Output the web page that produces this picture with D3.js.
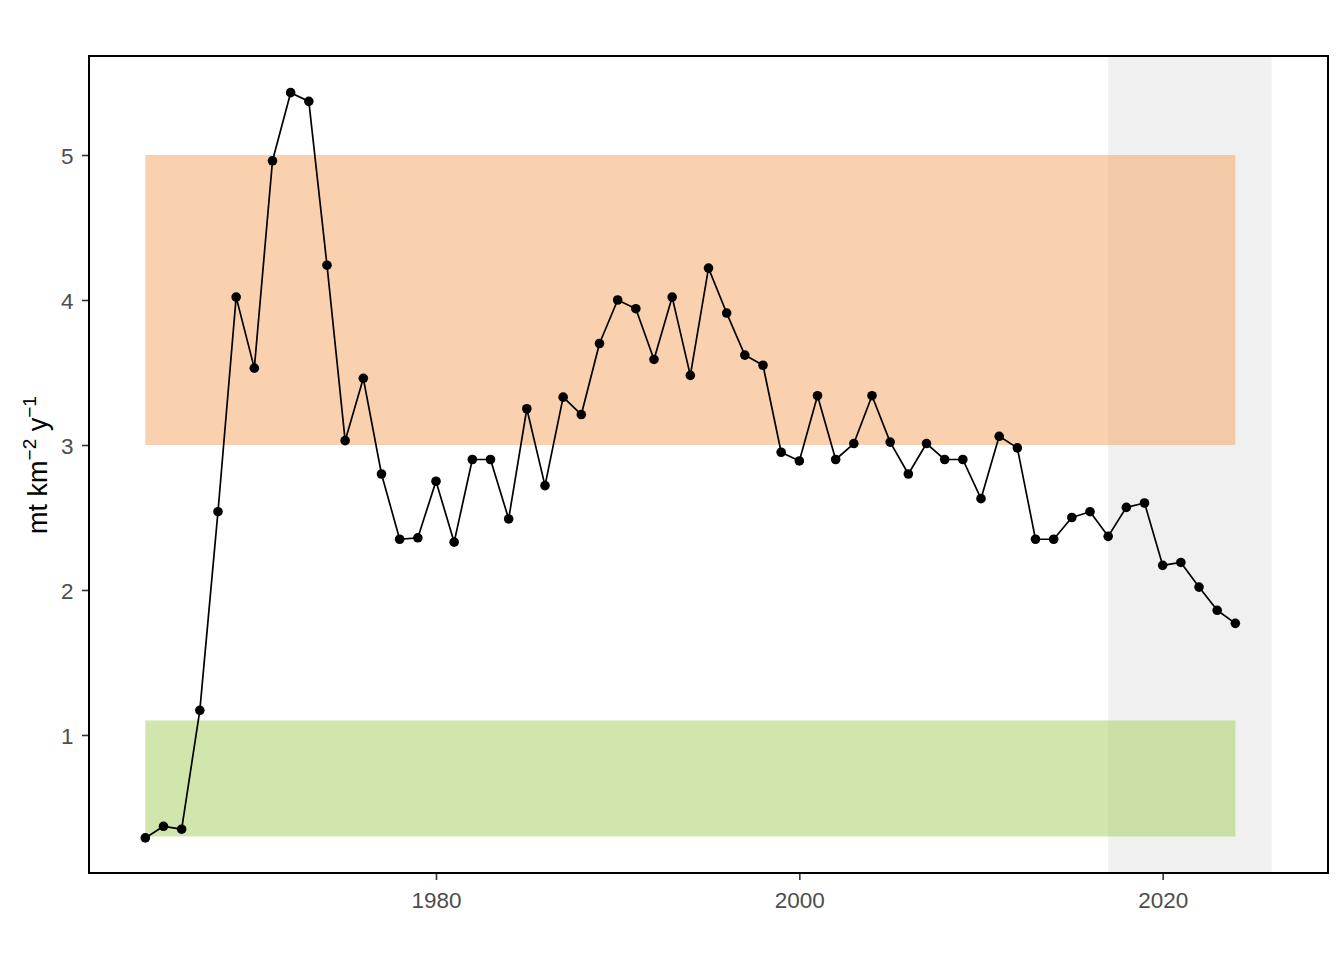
<!DOCTYPE html>
<html>
<head>
<meta charset="utf-8">
<script src="https://cdn.jsdelivr.net/npm/d3@7"></script>
<style>
  html, body { margin: 0; padding: 0; background: #ffffff; }
  svg { display: block; }
</style>
</head>
<body>
<div id="chart"></div>
<script>
// ---- data ----
const years = d3.range(1964, 2025);
const values = [
  0.29, 0.37, 0.35, 1.17, 2.54, 4.02, 3.53, 4.96, 5.43, 5.37,
  4.24, 3.03, 3.46, 2.80, 2.35, 2.36, 2.75, 2.33, 2.90, 2.90,
  2.49, 3.25, 2.72, 3.33, 3.21, 3.70, 4.00, 3.94, 3.59, 4.02,
  3.48, 4.22, 3.91, 3.62, 3.55, 2.95, 2.89, 3.34, 2.90, 3.01,
  3.34, 3.02, 2.80, 3.01, 2.90, 2.90, 2.63, 3.06, 2.98, 2.35,
  2.35, 2.50, 2.54, 2.37, 2.57, 2.60, 2.17, 2.19, 2.02, 1.86,
  1.77
];
const xTicks = [1980, 2000, 2020];
const yTicks = [1, 2, 3, 4, 5];
const bandYears = [1964, 2024];
const orangeBand = [3, 5];
const greenBand = [0.3, 1.1];
const projYears = [2017, 2026];
const yLabelParts = ["mt km", "\u22122", " y", "\u22121"];

// ---- layout ----
const W = 1344, H = 960;
const pLeft = 89, pRight = 1328, pTop = 57, pBottom = 873;

const svg = d3.select("#chart").append("svg")
  .attr("width", W).attr("height", H)
  .style("font-family", "'Liberation Sans', Arial, sans-serif");

const xMin = 1964, xMax = 2026, xPad = (xMax - xMin) * 0.05;
const x = d3.scaleLinear().domain([xMin - xPad, xMax + xPad]).range([pLeft, pRight]);
const y = d3.scaleLinear().domain([0.048, 5.676]).range([pBottom, pTop]);

// projection (grey) band
svg.append("rect")
  .attr("x", x(projYears[0])).attr("y", pTop)
  .attr("width", x(projYears[1]) - x(projYears[0]))
  .attr("height", pBottom - pTop)
  .attr("fill", "#f0f0f0");

// orange band
svg.append("rect")
  .attr("x", x(bandYears[0])).attr("y", y(orangeBand[1]))
  .attr("width", x(bandYears[1]) - x(bandYears[0]))
  .attr("height", y(orangeBand[0]) - y(orangeBand[1]))
  .attr("fill", "#F4A460").attr("fill-opacity", 0.5);

// green band
svg.append("rect")
  .attr("x", x(bandYears[0])).attr("y", y(greenBand[1]))
  .attr("width", x(bandYears[1]) - x(bandYears[0]))
  .attr("height", y(greenBand[0]) - y(greenBand[1]))
  .attr("fill", "#A2CD5A").attr("fill-opacity", 0.5);

const data = years.map((yr, i) => ({ yr, v: values[i] }));

svg.append("path")
  .datum(data)
  .attr("fill", "none")
  .attr("stroke", "#000")
  .attr("stroke-width", 1.7)
  .attr("stroke-linejoin", "round")
  .attr("d", d3.line().x(d => x(d.yr)).y(d => y(d.v)));

svg.append("g").selectAll("circle")
  .data(data).join("circle")
  .attr("cx", d => x(d.yr)).attr("cy", d => y(d.v))
  .attr("r", 4.8).attr("fill", "#000");

// axes
const xAxis = svg.append("g")
  .attr("transform", `translate(0,${pBottom})`)
  .call(d3.axisBottom(x).tickValues(xTicks).tickFormat(d3.format("d")).tickSize(7).tickPadding(10));
xAxis.select(".domain").remove();
xAxis.selectAll(".tick line").attr("stroke", "#333333").attr("stroke-width", 1.6);
xAxis.selectAll(".tick text")
  .attr("fill", "#4d4d4d").style("font-size", "22.5px")
  .attr("y", 34.5).attr("dy", null);

const yAxis = svg.append("g")
  .attr("transform", `translate(${pLeft},0)`)
  .call(d3.axisLeft(y).tickValues(yTicks).tickFormat(d3.format("d")).tickSize(7).tickPadding(8));
yAxis.select(".domain").remove();
yAxis.selectAll(".tick line").attr("stroke", "#333333").attr("stroke-width", 1.6);
yAxis.selectAll(".tick text")
  .attr("fill", "#4d4d4d").style("font-size", "22.5px")
  .attr("x", -15.5).attr("dy", "0.36em");

// panel border
svg.append("rect")
  .attr("x", pLeft).attr("y", pTop - 1)
  .attr("width", pRight - pLeft).attr("height", pBottom - pTop + 1)
  .attr("fill", "none").attr("stroke", "#000").attr("stroke-width", 2);

// y-axis title
const yt = svg.append("text")
  .attr("transform", `translate(47,${(pTop + pBottom) / 2}) rotate(-90)`)
  .attr("text-anchor", "middle")
  .attr("fill", "#000")
  .style("font-size", "27px");
yt.append("tspan").text(yLabelParts[0]);
yt.append("tspan").attr("dy", -11).style("font-size", "19px").text(yLabelParts[1]);
yt.append("tspan").attr("dy", 11).text(yLabelParts[2]);
yt.append("tspan").attr("dy", -11).style("font-size", "19px").text(yLabelParts[3]);
</script>
</body>
</html>
